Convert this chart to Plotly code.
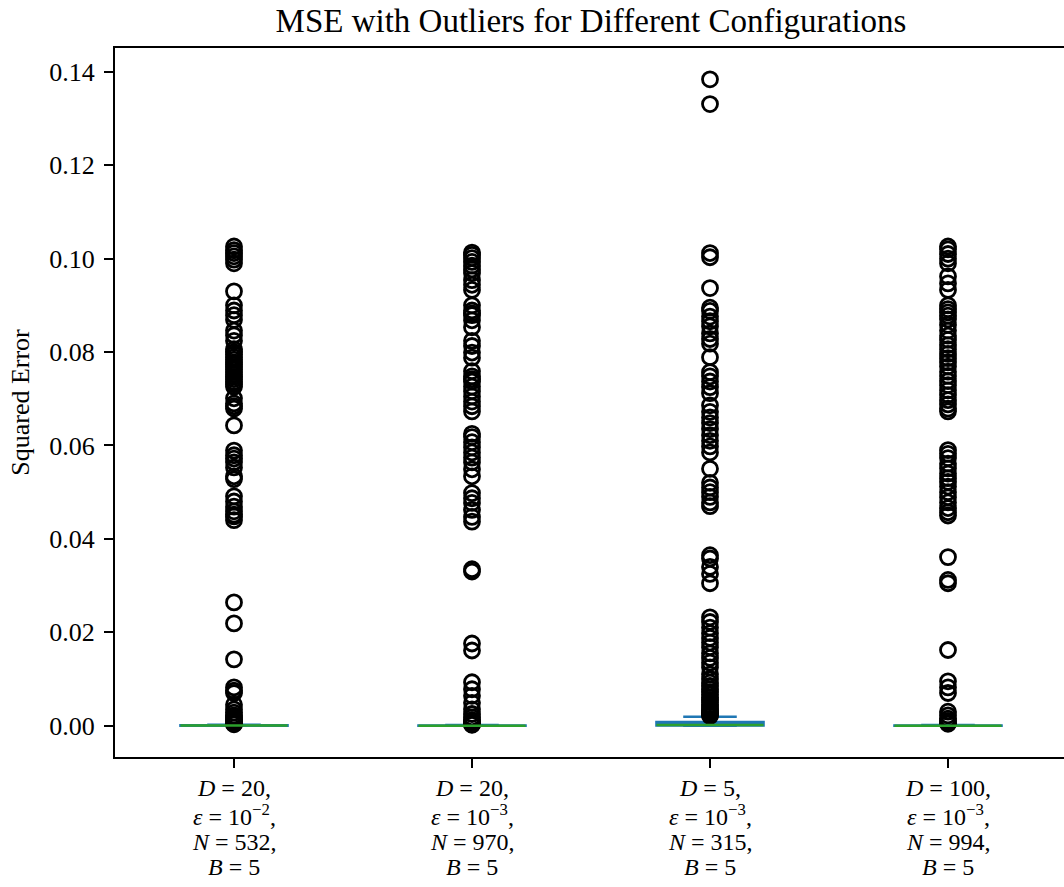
import plotly.graph_objects as go

# ---------------- data ----------------
categories = [
    "<i>D</i> = 20,<br><i>ε</i> = 10<sup>−2</sup>,<br><i>N</i> = 532,<br><i>B</i> = 5",
    "<i>D</i> = 20,<br><i>ε</i> = 10<sup>−3</sup>,<br><i>N</i> = 970,<br><i>B</i> = 5",
    "<i>D</i> = 5,<br><i>ε</i> = 10<sup>−3</sup>,<br><i>N</i> = 315,<br><i>B</i> = 5",
    "<i>D</i> = 100,<br><i>ε</i> = 10<sup>−3</sup>,<br><i>N</i> = 994,<br><i>B</i> = 5",
]
positions = [1, 2, 3, 4]

q1 = [0.0, 0.0, 0.00003, 0.0]
median = [0.00002, 0.00001, 0.00015, 0.00001]
q3 = [0.00008, 0.00005, 0.0008, 0.00005]
lowerfence = [0.0, 0.0, 0.0, 0.0]
upperfence = [0.0002, 0.00012, 0.0019, 0.00012]

outliers_1 = [
    0.1026, 0.1018, 0.1012, 0.1005, 0.0998, 0.0990, 0.0930, 0.0900, 0.0889,
    0.0879, 0.0869, 0.0846, 0.0836, 0.0824, 0.0806, 0.0800, 0.0795, 0.0789,
    0.0784, 0.0778, 0.0774, 0.0768, 0.0763, 0.0757, 0.0752, 0.0747, 0.0742,
    0.0736, 0.0731, 0.0726, 0.0701, 0.0690, 0.0684, 0.0679, 0.0643, 0.0589,
    0.0579, 0.0572, 0.0564, 0.0553, 0.0534, 0.0528, 0.0491, 0.0480, 0.0469,
    0.0459, 0.0452, 0.0448, 0.0440, 0.0264, 0.0219, 0.0142, 0.0082, 0.0075,
    0.0070, 0.0045, 0.0035, 0.0028, 0.0022, 0.0018, 0.0014, 0.0011, 0.0008,
    0.0006, 0.0005, 0.0004, 0.0003,
]
outliers_2 = [
    0.1013, 0.1008, 0.1001, 0.0993, 0.0985, 0.0977, 0.0969, 0.0954, 0.0944,
    0.0933, 0.0900, 0.0889, 0.0883, 0.0879, 0.0868, 0.0853, 0.0824, 0.0813,
    0.0799, 0.0788, 0.0759, 0.0748, 0.0742, 0.0737, 0.0726, 0.0716, 0.0705,
    0.0694, 0.0684, 0.0673, 0.0625, 0.0618, 0.0607, 0.0596, 0.0585, 0.0574,
    0.0564, 0.0549, 0.0534, 0.0498, 0.0487, 0.0477, 0.0462, 0.0447, 0.0437,
    0.0335, 0.0330, 0.0176, 0.0161, 0.0093, 0.0078, 0.0064, 0.0049, 0.0035,
    0.0025, 0.0018, 0.0012, 0.0008, 0.0005, 0.0003, 0.0002,
]
outliers_3 = [
    0.1384, 0.1331, 0.1012, 0.1003, 0.0937, 0.0895, 0.0888, 0.0876, 0.0866,
    0.0855, 0.0840, 0.0828, 0.0818, 0.0789, 0.0757, 0.0748, 0.0737, 0.0725,
    0.0712, 0.0686, 0.0672, 0.0660, 0.0648, 0.0635, 0.0622, 0.0610, 0.0598,
    0.0585, 0.0550, 0.0520, 0.0510, 0.0500, 0.0490, 0.0478, 0.0470, 0.0365,
    0.0358, 0.0340, 0.0325, 0.0305, 0.0232, 0.0222, 0.0210, 0.0198, 0.0188,
    0.0178, 0.0168, 0.0155, 0.0145, 0.0135, 0.0125, 0.0110, 0.0100, 0.0092,
    0.0085, 0.0078, 0.0072, 0.0066, 0.0060, 0.0055, 0.0050, 0.0045, 0.0040,
    0.0036, 0.0032, 0.0029, 0.0026, 0.0023, 0.0021,
]
outliers_4 = [
    0.1026, 0.1020, 0.1010, 0.1000, 0.0990, 0.0962, 0.0947, 0.0933, 0.0900,
    0.0892, 0.0885, 0.0878, 0.0870, 0.0858, 0.0846, 0.0835, 0.0826, 0.0815,
    0.0806, 0.0796, 0.0787, 0.0778, 0.0769, 0.0758, 0.0749, 0.0738, 0.0729,
    0.0718, 0.0708, 0.0697, 0.0688, 0.0679, 0.0673, 0.0590, 0.0582, 0.0573,
    0.0561, 0.0551, 0.0540, 0.0530, 0.0522, 0.0512, 0.0500, 0.0489, 0.0478,
    0.0466, 0.0457, 0.0450, 0.0361, 0.0312, 0.0305, 0.0162, 0.0095, 0.0082,
    0.0070, 0.0030, 0.0022, 0.0015, 0.0010, 0.0006, 0.0004,
]
outliers = [outliers_1, outliers_2, outliers_3, outliers_4]

y_ticks = [0.00, 0.02, 0.04, 0.06, 0.08, 0.10, 0.12, 0.14]

# ---------------- style ----------------
BLUE = "#1f77b4"
GREEN = "#2ca02c"
BOX_WIDTH = 0.45
FONT = "Liberation Serif"
LABEL_SIZE = 24
LINE_SHIFTS = [-44, -73, -98, -123]
W, H = 1064, 887
ML, MR, MT, MB = 115, 30, 47, 129
PLOT_W = W - ML - MR

fig = go.Figure()

# fliers
for p, vals in zip(positions, outliers):
    fig.add_trace(go.Scatter(
        x=[p] * len(vals), y=vals, mode="markers",
        marker=dict(symbol="circle-open", size=15, color="black",
                    line=dict(width=2.8, color="black")),
        showlegend=False, hoverinfo="skip",
    ))

# boxes + whiskers + caps
fig.add_trace(go.Box(
    x=positions, q1=q1, median=median, q3=q3,
    lowerfence=lowerfence, upperfence=upperfence,
    width=BOX_WIDTH, whiskerwidth=0.5, boxpoints=False,
    line=dict(color=BLUE, width=2.5), fillcolor="rgba(0,0,0,0)",
    showlegend=False, hoverinfo="skip",
))

# medians (green)
mx, my = [], []
for p, m in zip(positions, median):
    mx += [p - BOX_WIDTH / 2, p + BOX_WIDTH / 2, None]
    my += [m, m, None]
fig.add_trace(go.Scatter(
    x=mx, y=my, mode="lines", line=dict(color=GREEN, width=2.5),
    showlegend=False, hoverinfo="skip",
))

# category labels: one annotation per line (tight line spacing)
annotations = []
for p, label in zip(positions, categories):
    for line, shift in zip(label.split("<br>"), LINE_SHIFTS):
        annotations.append(dict(
            text=line, x=p, xref="x", y=0, yref="paper",
            xanchor="center", yanchor="bottom", showarrow=False,
            yshift=shift, borderpad=0,
            font=dict(family=FONT, size=LABEL_SIZE, color="black"),
        ))

all_vals = [v for vals in outliers for v in vals]
ymax = max(all_vals)
ymin = 0.0
pad = (ymax - ymin) * 0.05

# axes frame lines (top & bottom spines run off the right edge, no right spine)
x_left = -2 / PLOT_W
x_right = 1 + (MR + 2) / PLOT_W
spines = [
    dict(type="line", xref="paper", yref="paper", x0=x_left, x1=x_right,
         y0=1, y1=1, line=dict(color="black", width=2)),
    dict(type="line", xref="paper", yref="paper", x0=x_left, x1=x_right,
         y0=0, y1=0, line=dict(color="black", width=2)),
]

fig.update_layout(
    width=W, height=H,
    margin=dict(l=ML, r=MR, t=MT, b=MB),
    paper_bgcolor="white", plot_bgcolor="white",
    font=dict(family=FONT, color="black", size=24),
    title=dict(text="MSE with Outliers for Different Configurations",
               x=591 / W, xref="container", xanchor="center",
               y=1 - 20 / H, yref="container", yanchor="middle",
               font=dict(family=FONT, size=33, color="black")),
    xaxis=dict(
        range=[0.5, 0.5 + PLOT_W / 238.0], tickmode="array",
        tickvals=positions, showticklabels=False, showgrid=False,
        zeroline=False, showline=False, ticks="outside", ticklen=9,
        tickwidth=1.5, tickcolor="black",
    ),
    yaxis=dict(
        range=[ymin - pad, ymax + pad], tickmode="array", tickvals=y_ticks,
        ticktext=[f"{v:.2f}" for v in y_ticks], showgrid=False,
        zeroline=False, showline=True, mirror=False, linecolor="black",
        linewidth=2, ticks="outside", ticklen=9, tickwidth=1.5,
        tickcolor="black", ticklabelstandoff=4,
        tickfont=dict(family=FONT, size=26, color="black"),
        title=dict(text="Squared Error", standoff=12,
                   font=dict(family=FONT, size=26, color="black")),
    ),
    annotations=annotations,
    shapes=spines,
)

fig.write_html("out.html")
